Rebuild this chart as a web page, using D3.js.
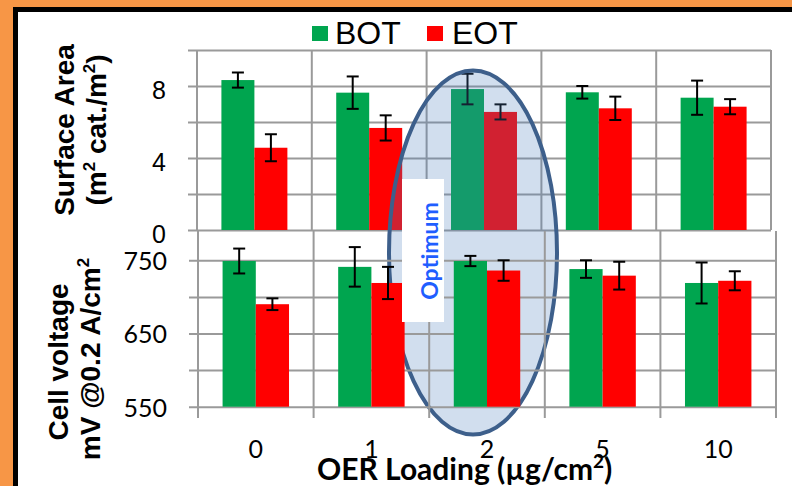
<!DOCTYPE html>
<html>
<head>
<meta charset="utf-8">
<script src="https://cdn.jsdelivr.net/npm/d3@7.9.0/dist/d3.min.js"></script>
<style>
  html, body { margin: 0; padding: 0; background: #fff; }
  svg { display: block; }
</style>
</head>
<body>
<svg id="chart" width="792" height="486"></svg>
<script>
// OER loading categories (µg/cm²)
const categories = ['0', '1', '2', '5', '10'];

// surface area, m² cat./m²  (beginning / end of test)
const areaBOT = [8.33, 7.63, 7.83, 7.65, 7.35];
const areaBOTErr = [0.42, 0.9, 0.85, 0.35, 0.95];
const areaEOT = [4.57, 5.67, 6.56, 6.76, 6.85];
const areaEOTErr = [0.75, 0.7, 0.42, 0.65, 0.42];

// cell voltage, mV @ 0.2 A/cm²
const voltBOT = [749, 741, 749, 738, 719];
const voltBOTErr = [17, 27, 7, 12, 28];
const voltEOT = [690, 719, 736, 729, 722];
const voltEOTErr = [8, 22, 14, 19, 13];

const seriesNames = ['BOT', 'EOT'];
const areaTicks = [0, 2, 4, 6, 8, 10];
const areaLabels = [0, 4, 8];
const voltTicks = [550, 600, 650, 700, 750];
const voltLabels = [550, 650, 750];

const GREEN = '#00a54f';
const RED = '#ff0000';
const GRID = '#9a9a9a';
const color = d3.scaleOrdinal(seriesNames, [GREEN, RED]);

const svg = d3.select('#chart');

// orange page + black framed white slide
svg.append('rect').attr('width', 792).attr('height', 486).attr('fill', '#f79646');
svg.append('rect')
  .attr('x', 15.5).attr('y', 9.5).attr('width', 820).attr('height', 520)
  .attr('fill', '#fff').attr('stroke', '#000').attr('stroke-width', 5);

// legend
const legend = svg.append('g');
[[312, 335], [427, 452]].forEach(([sx, tx], i) => {
  legend.append('rect').attr('x', sx).attr('y', 26).attr('width', 16).attr('height', 15)
    .attr('fill', color(seriesNames[i]));
  legend.append('text').attr('x', tx).attr('y', 44)
    .attr('font-family', 'Liberation Sans, Arial, sans-serif').attr('font-size', 32)
    .attr('fill', '#000').text(seriesNames[i]);
});

function drawPanel(g, opts) {
  const { x, y, ticks, labels, bot, botErr, eot, eotErr, top, bottom, left, right, labelFont, labelDy } = opts;
  const inner = d3.scaleBand().domain(seriesNames).range([0, x.bandwidth()])
    .paddingInner(0).paddingOuter(0.74);

  // horizontal grid + left ticks
  const ax = d3.axisLeft(y).tickValues(ticks)
    .tickSizeInner(-(right - left + 9)).tickSizeOuter(0).tickPadding(22)
    .tickFormat((d) => (labels.includes(d) ? d : ''));
  const ag = g.append('g').attr('transform', `translate(${left - 9},0)`).call(ax);
  ag.select('.domain').remove();
  ag.selectAll('line').attr('stroke', GRID).attr('stroke-width', 2);
  ag.selectAll('text').attr('font-family', labelFont).attr('font-size', 25)
    .attr('fill', '#000').attr('dy', labelDy);

  // vertical grid at category boundaries
  const edges = categories.map((c) => x(c)).concat([right]);
  g.append('g').selectAll('line').data(edges).join('line')
    .attr('x1', (d) => d).attr('x2', (d) => d)
    .attr('y1', top).attr('y2', bottom)
    .attr('stroke', GRID).attr('stroke-width', 2);

  const rows = categories.map((c, i) => [
    { c, s: 'BOT', v: bot[i], e: botErr[i] },
    { c, s: 'EOT', v: eot[i], e: eotErr[i] },
  ]).flat();

  const base = y.domain()[0];
  g.append('g').selectAll('rect').data(rows).join('rect')
    .attr('x', (d) => x(d.c) + inner(d.s))
    .attr('width', inner.bandwidth())
    .attr('y', (d) => y(d.v))
    .attr('height', (d) => y(base) - y(d.v))
    .attr('fill', (d) => color(d.s));

  const eb = g.append('g').attr('stroke', '#000').attr('stroke-width', 2);
  rows.forEach((d) => {
    const cx = x(d.c) + inner(d.s) + inner.bandwidth() / 2;
    eb.append('line').attr('x1', cx).attr('x2', cx).attr('y1', y(d.v + d.e)).attr('y2', y(d.v - d.e));
    eb.append('line').attr('x1', cx - 6).attr('x2', cx + 6).attr('y1', y(d.v + d.e)).attr('y2', y(d.v + d.e));
    eb.append('line').attr('x1', cx - 6).attr('x2', cx + 6).attr('y1', y(d.v - d.e)).attr('y2', y(d.v - d.e));
  });
  g.append('line').attr('x1', left).attr('x2', left).attr('y1', top).attr('y2', bottom)
    .attr('stroke', GRID).attr('stroke-width', 2);
}

// top panel: surface area
const xTop = d3.scaleBand().domain(categories).range([197, 771]).padding(0);
const yTop = d3.scaleLinear().domain([0, 10]).range([230, 50]);
drawPanel(svg.append('g'), {
  x: xTop, y: yTop, ticks: areaTicks, labels: areaLabels,
  bot: areaBOT, botErr: areaBOTErr, eot: areaEOT, eotErr: areaEOTErr,
  top: 50, bottom: 230, left: 197, right: 771,
  labelFont: 'Liberation Sans, Arial, sans-serif', labelDy: '0.48em',
});

// optimum ellipse (over the top panel, under the bottom one)
svg.append('ellipse')
  .attr('cx', 473).attr('cy', 252.5).attr('rx', 84).attr('ry', 182)
  .attr('fill', 'rgba(79,129,189,0.26)')
  .attr('stroke', '#3d5f8b').attr('stroke-width', 4);

// bottom panel: cell voltage
const xBot = d3.scaleBand().domain(categories).range([198, 776]).padding(0);
const yBot = d3.scaleLinear().domain([550, 790]).range([406.7, 231]);
const gBot = svg.append('g');
drawPanel(gBot, {
  x: xBot, y: yBot, ticks: voltTicks, labels: voltLabels,
  bot: voltBOT, botErr: voltBOTErr, eot: voltEOT, eotErr: voltEOTErr,
  top: 231, bottom: 418, left: 198, right: 776,
  labelFont: 'Lato, sans-serif', labelDy: '0.38em',
});

// category labels
const xa = gBot.append('g').attr('transform', 'translate(0,407)')
  .call(d3.axisBottom(xBot).tickSize(0).tickPadding(33));
xa.select('.domain').remove();
xa.selectAll('text').attr('font-family', 'Lato, sans-serif').attr('font-size', 25).attr('fill', '#000');

// axis titles
const bold = 'Liberation Sans, Arial, sans-serif';
function vTitle(cx, cy, parts) {
  const t = svg.append('text')
    .attr('transform', `translate(${cx},${cy}) rotate(-90)`)
    .attr('text-anchor', 'middle')
    .attr('font-family', bold).attr('font-weight', 'bold').attr('font-size', 28).attr('fill', '#000');
  parts.forEach(([s, sup]) => {
    const ts = t.append('tspan').text(s);
    if (sup) ts.attr('font-size', 17).attr('dy', -11);
    else if (t.selectAll('tspan').size() > 1) ts.attr('dy', 11);
  });
}
vTitle(74, 130, [['Surface Area']]);
vTitle(106, 130, [['(m'], ['2', true], [' cat./m'], ['2', true], [')']]);
vTitle(68, 362, [['Cell voltage']]);
vTitle(100, 359, [['mV @0.2 A/cm'], ['2', true]]);

const xt = svg.append('text').attr('x', 317).attr('y', 480)
  .attr('font-family', 'Lato, sans-serif').attr('font-weight', 'bold').attr('font-size', 30).attr('fill', '#000');
xt.append('tspan').text('OER Loading (µg/cm');
xt.append('tspan').text('2').attr('font-size', 19).attr('dy', -12);
xt.append('tspan').text(')').attr('dy', 12);

// "Optimum" label box
svg.append('rect').attr('x', 402).attr('y', 179).attr('width', 42).attr('height', 143).attr('fill', '#fff');
svg.append('text')
  .attr('transform', 'translate(438,251) rotate(-90)')
  .attr('text-anchor', 'middle')
  .attr('font-family', 'Lato, sans-serif').attr('font-weight', 'bold').attr('font-size', 23)
  .attr('fill', '#1f5eff').text('Optimum');
</script>
</body>
</html>
